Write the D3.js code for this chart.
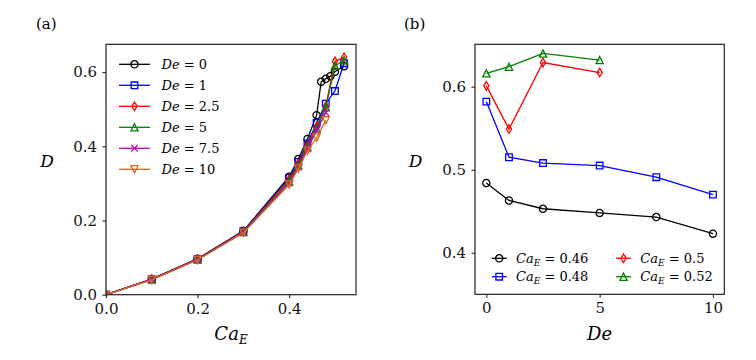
<!DOCTYPE html>
<html>
<head>
<meta charset="utf-8">
<script src="https://cdn.jsdelivr.net/npm/d3@7"></script>
<style>
  body { margin: 0; background: #fff; }
  svg { display: block; font-family: 'DejaVu Serif', serif; }
</style>
</head>
<body>
<svg id="chart" width="756" height="360"></svg>
<script>
// panel (a): D vs Ca_E for each De
const caLong = [0, 0.1, 0.2, 0.3, 0.4, 0.42, 0.44, 0.46, 0.47, 0.48, 0.49, 0.5, 0.52]
const caMid = [0, 0.1, 0.2, 0.3, 0.4, 0.42, 0.44, 0.46, 0.48, 0.5, 0.52]
const caShort = [0, 0.1, 0.2, 0.3, 0.4, 0.42, 0.44, 0.46, 0.48]
const dDe0 = [0, 0.042, 0.097, 0.172, 0.318, 0.366, 0.42, 0.484, 0.574, 0.582, 0.589, 0.601, 0.616]
const dDe1 = [0, 0.042, 0.096, 0.171, 0.315, 0.358, 0.408, 0.463, 0.515, 0.549, 0.624]
const dDe25 = [0, 0.042, 0.096, 0.17, 0.311, 0.353, 0.402, 0.453, 0.508, 0.629, 0.64]
const dDe5 = [0, 0.041, 0.095, 0.169, 0.306, 0.349, 0.398, 0.448, 0.505, 0.617, 0.632]
const dDe75 = [0, 0.041, 0.095, 0.168, 0.301, 0.344, 0.393, 0.443, 0.491]
const dDe10 = [0, 0.04, 0.094, 0.167, 0.297, 0.34, 0.388, 0.423, 0.47]

// panel (b): D vs De for each Ca_E
const deLong = [0, 1, 2.5, 5, 7.5, 10]
const deShort = [0, 1, 2.5, 5]
const dCa046 = [0.484, 0.463, 0.453, 0.448, 0.443, 0.423]
const dCa048 = [0.582, 0.515, 0.508, 0.505, 0.491, 0.47]
const dCa050 = [0.601, 0.549, 0.629, 0.617]
const dCa052 = [0.616, 0.624, 0.64, 0.632]

const xTicksA = [0, 0.2, 0.4]
const yTicksA = [0, 0.2, 0.4, 0.6]
const xTicksB = [0, 5, 10]
const yTicksB = [0.4, 0.5, 0.6]

const seriesA = [
  { label: '0', x: caLong, y: dDe0, color: '#000000', marker: 'circle' },
  { label: '1', x: caMid, y: dDe1, color: '#0000ff', marker: 'square' },
  { label: '2.5', x: caMid, y: dDe25, color: '#ff0000', marker: 'diamond' },
  { label: '5', x: caMid, y: dDe5, color: '#008000', marker: 'triangle' },
  { label: '7.5', x: caShort, y: dDe75, color: '#bf00bf', marker: 'x' },
  { label: '10', x: caShort, y: dDe10, color: '#d2691e', marker: 'triangleDown' }
]
const seriesB = [
  { label: '0.46', x: deLong, y: dCa046, color: '#000000', marker: 'circle' },
  { label: '0.48', x: deLong, y: dCa048, color: '#0000ff', marker: 'square' },
  { label: '0.5', x: deShort, y: dCa050, color: '#ff0000', marker: 'diamond' },
  { label: '0.52', x: deShort, y: dCa052, color: '#008000', marker: 'triangle' }
]

// marker shapes centred on 0,0
const markerPath = (type) => {
  const r = 3.6
  switch (type) {
    case 'circle': return `M${r},0A${r},${r} 0 1,1 ${-r},0A${r},${r} 0 1,1 ${r},0Z`
    case 'square': return `M-3.3,-3.3H3.3V3.3H-3.3Z`
    case 'diamond': return `M0,-4.3L2.6,0L0,4.3L-2.6,0Z`
    case 'triangle': return `M0,${-r}L${r},${r}L${-r},${r}Z`
    case 'triangleDown': return `M0,${r}L${r},${-r}L${-r},${-r}Z`
    case 'x': return `M-3.3,-3.3L3.3,3.3M-3.3,3.3L3.3,-3.3`
  }
}

const svg = d3.select('#chart')

const drawPanel = (cfg) => {
  const x = d3.scaleLinear().domain(cfg.xDomain).range(cfg.xRange)
  const y = d3.scaleLinear().domain(cfg.yDomain).range(cfg.yRange)
  const g = svg.append('g')

  const clipId = 'clip-' + cfg.name
  svg.append('clipPath').attr('id', clipId)
    .append('rect')
    .attr('x', cfg.xRange[0]).attr('y', cfg.yRange[1])
    .attr('width', cfg.xRange[1] - cfg.xRange[0])
    .attr('height', cfg.yRange[0] - cfg.yRange[1])

  const plot = g.append('g').attr('clip-path', `url(#${clipId})`)
  const line = d3.line().x((d) => x(d[0])).y((d) => y(d[1]))

  cfg.series.forEach((s) => {
    const pts = s.x.map((v, i) => [v, s.y[i]])
    const sg = plot.append('g')
    sg.append('path')
      .attr('d', line(pts))
      .attr('fill', 'none')
      .attr('stroke', s.color)
      .attr('stroke-width', 1.3)
    sg.selectAll('.mk')
      .data(pts)
      .enter()
      .append('path')
      .attr('class', 'mk')
      .attr('transform', (d) => `translate(${x(d[0])},${y(d[1])})`)
      .attr('d', markerPath(s.marker))
      .attr('fill', 'none')
      .attr('stroke', s.color)
      .attr('stroke-width', 1.3)
  })

  // axes
  const xAxis = g.append('g')
    .attr('transform', `translate(0,${cfg.yRange[0]})`)
    .call(d3.axisBottom(x).tickValues(cfg.xTicks).tickFormat(cfg.xFormat).tickSizeOuter(0).tickSize(3.5).tickPadding(5))
  const yAxis = g.append('g')
    .attr('transform', `translate(${cfg.xRange[0]},0)`)
    .call(d3.axisLeft(y).tickValues(cfg.yTicks).tickFormat(d3.format('.1f')).tickSizeOuter(0).tickSize(3.5).tickPadding(5.5))
  ;[xAxis, yAxis].forEach((a) => {
    a.select('.domain').remove()
    a.selectAll('line').attr('stroke', '#222').attr('stroke-width', 1.1)
    a.selectAll('text').attr('font-size', 15).attr('fill', '#111').attr('font-family', 'DejaVu Serif')
  })

  // frame
  g.append('rect')
    .attr('x', cfg.xRange[0]).attr('y', cfg.yRange[1])
    .attr('width', cfg.xRange[1] - cfg.xRange[0])
    .attr('height', cfg.yRange[0] - cfg.yRange[1])
    .attr('fill', 'none')
    .attr('stroke', '#222')
    .attr('stroke-width', 1.2)

  // panel tag
  g.append('text')
    .attr('x', cfg.tagX).attr('y', 29)
    .attr('font-size', 15)
    .text(cfg.tag)

  // y label
  g.append('text')
    .attr('x', cfg.yLabelX).attr('y', 167)
    .attr('text-anchor', 'middle')
    .attr('font-size', 17)
    .attr('font-style', 'italic')
    .text('D')

  return { x, y, g }
}

// panel (a)
const pa = drawPanel({
  name: 'a', tag: '(a)', tagX: 36, yLabelX: 47,
  xDomain: [0, 0.546], xRange: [106, 356],
  yDomain: [0, 0.675], yRange: [294.7, 44.3],
  xTicks: xTicksA, yTicks: yTicksA, xFormat: d3.format('.1f'),
  series: seriesA
})

const xla = pa.g.append('text')
  .attr('x', 231).attr('y', 340)
  .attr('text-anchor', 'middle')
  .attr('font-size', 18)
xla.append('tspan').attr('font-style', 'italic').text('Ca')
xla.append('tspan').attr('font-style', 'italic').attr('font-size', 12).attr('dy', 4).text('E')

// legend (a)
seriesA.forEach((s, i) => {
  const cy = 64.3 + i * 21
  const lg = pa.g.append('g')
  lg.append('line')
    .attr('x1', 119).attr('x2', 150).attr('y1', cy).attr('y2', cy)
    .attr('stroke', s.color).attr('stroke-width', 1.3)
  lg.append('path')
    .attr('transform', `translate(134.5,${cy})`)
    .attr('d', markerPath(s.marker))
    .attr('fill', 'none').attr('stroke', s.color).attr('stroke-width', 1.3)
  const t = lg.append('text')
    .attr('x', 161.5).attr('y', cy + 4.5)
    .attr('font-size', 13)
  t.append('tspan').attr('font-style', 'italic').text('De')
  t.append('tspan').text(' = ' + s.label)
})

// panel (b)
const pb = drawPanel({
  name: 'b', tag: '(b)', tagX: 404, yLabelX: 415.5,
  xDomain: [-0.5, 10.5], xRange: [475, 724.3],
  yDomain: [0.35, 0.651], yRange: [294.3, 44.3],
  xTicks: xTicksB, yTicks: yTicksB, xFormat: d3.format('d'),
  series: seriesB
})

pb.g.append('text')
  .attr('x', 599.6).attr('y', 340)
  .attr('text-anchor', 'middle')
  .attr('font-size', 18)
  .attr('font-style', 'italic')
  .text('De')

// legend (b), two columns
seriesB.forEach((s, i) => {
  const col = Math.floor(i / 2)
  const row = i % 2
  const cy = 258.3 + row * 18.4
  const x0 = col === 0 ? 491.7 : 616
  const lg = pb.g.append('g')
  lg.append('line')
    .attr('x1', x0).attr('x2', x0 + 15).attr('y1', cy).attr('y2', cy)
    .attr('stroke', s.color).attr('stroke-width', 1.3)
  lg.append('path')
    .attr('transform', `translate(${x0 + 7.5},${cy})`)
    .attr('d', markerPath(s.marker))
    .attr('fill', 'none').attr('stroke', s.color).attr('stroke-width', 1.3)
  const t = lg.append('text')
    .attr('x', x0 + 24.3).attr('y', cy + 4.5)
    .attr('font-size', 13)
  t.append('tspan').attr('font-style', 'italic').text('Ca')
  t.append('tspan').attr('font-style', 'italic').attr('font-size', 9).attr('dy', 3).text('E')
  t.append('tspan').attr('dy', -3).text(' = ' + s.label)
})
</script>
</body>
</html>
